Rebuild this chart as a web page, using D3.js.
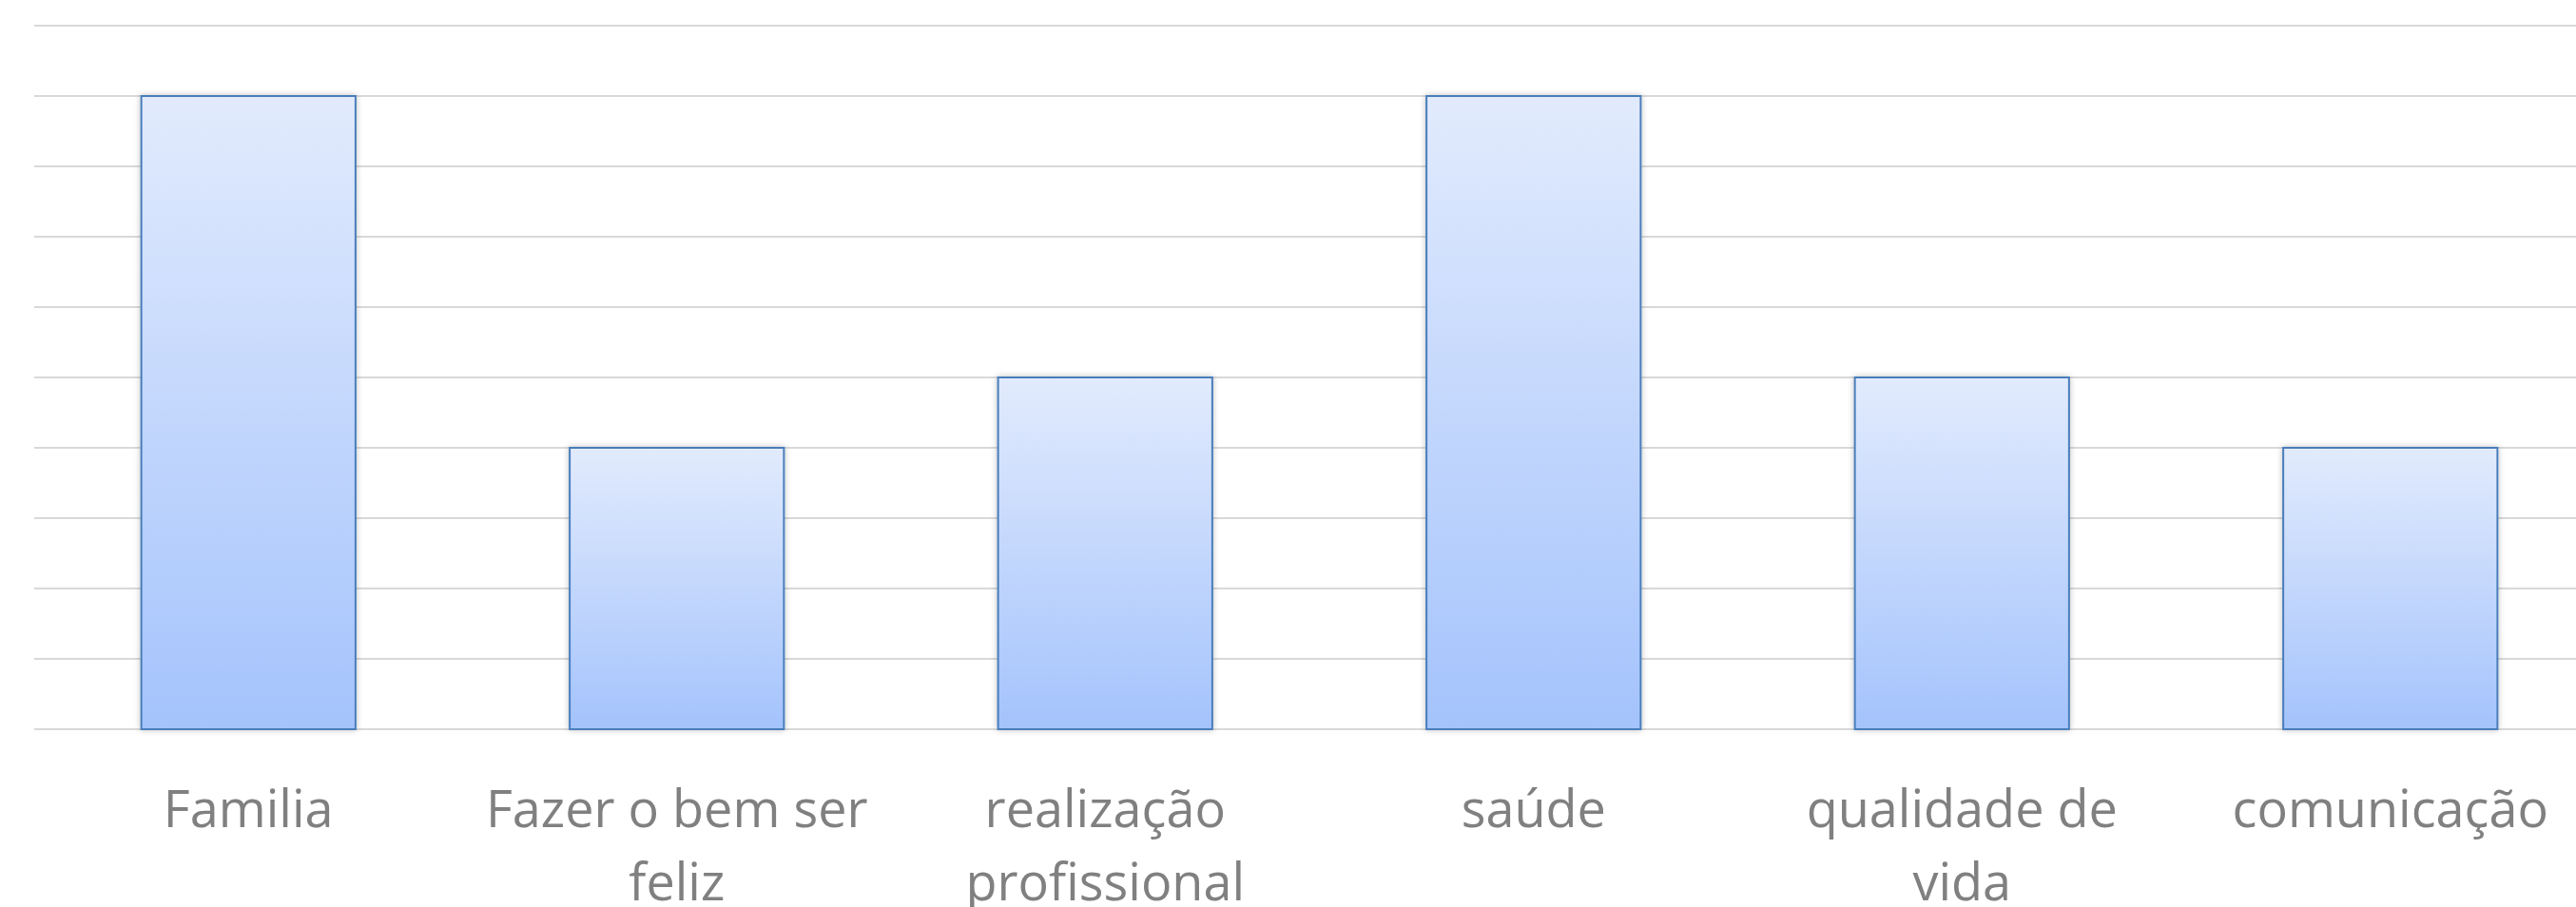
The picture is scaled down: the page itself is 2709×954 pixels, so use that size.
<!DOCTYPE html>
<html>
<head>
<meta charset="utf-8">
<script src="https://d3js.org/d3.v7.min.js"></script>
<style>
  body { margin: 0; background: #fff; }
</style>
</head>
<body>
<div id="chart"></div>
<script>
var w = 2709;
var h = 954;

var margin = { top: 27, left: 36, right: -30, bottom: 187 };

var categories = ["Familia", "Fazer o bem ser feliz", "realização profissional", "saúde", "qualidade de vida", "comunicação"];
var values = [9, 4, 5, 9, 5, 4];
var yTicks = [0, 1, 2, 3, 4, 5, 6, 7, 8, 9, 10];

var width = w - margin.left - margin.right;
var height = h - margin.top - margin.bottom;

var x = d3.scaleBand()
  .domain(categories)
  .range([0, width])
  .paddingInner(0.5)
  .paddingOuter(0.25);

var y = d3.scaleLinear()
  .domain([0, 10])
  .range([height, 0]);

var svg = d3.select("#chart").append("svg")
  .attr("width", w)
  .attr("height", h);

var defs = svg.append("defs");
var grad = defs.append("linearGradient")
  .attr("id", "barGrad")
  .attr("x1", 0).attr("y1", 0).attr("x2", 0).attr("y2", 1);
grad.append("stop").attr("offset", "0%").attr("stop-color", "#e2ebfd");
grad.append("stop").attr("offset", "100%").attr("stop-color", "#a4c3fc");

var shadow = defs.append("filter").attr("id", "shadow")
  .attr("x", "-10%").attr("y", "-10%").attr("width", "120%").attr("height", "120%");
shadow.append("feDropShadow")
  .attr("dx", 0).attr("dy", 0).attr("stdDeviation", 3)
  .attr("flood-color", "#000").attr("flood-opacity", 0.25);

var chart = svg.append("g").attr("transform", "translate(" + margin.left + "," + margin.top + ")");

// gridlines
chart.append("g")
  .selectAll("line")
  .data(yTicks)
  .join("line")
  .attr("x1", 0)
  .attr("x2", width)
  .attr("y1", function (d) { return y(d); })
  .attr("y2", function (d) { return y(d); })
  .style("stroke", "#d9d9d9")
  .style("stroke-width", 2);

chart.append("g")
  .selectAll("rect")
  .data(values)
  .join("rect")
  .attr("x", function (d, i) { return x(categories[i]); })
  .attr("y", function (d) { return y(d); })
  .attr("width", x.bandwidth())
  .attr("height", function (d) { return y(0) - y(d); })
  .style("fill", "url(#barGrad)")
  .style("stroke", "#4a7ebb")
  .style("stroke-width", 2)
  .attr("filter", "url(#shadow)");

// category labels, wrapped like excel does
var xAxis = chart.append("g")
  .attr("transform", "translate(0," + height + ")")
  .call(d3.axisBottom(x).tickSize(0).tickPadding(0));
xAxis.select(".domain").remove();
xAxis.selectAll("text")
  .style("font-family", "'Open Sans', sans-serif")
  .style("font-size", "54px")
  .style("fill", "#808080")
  .attr("y", 0)
  .attr("dy", null)
  .each(function (d) {
    var text = d3.select(this);
    var words = d.split(" ");
    text.text(null);
    var lines = [];
    var line = [];
    var tspan = text.append("tspan");
    words.forEach(function (word) {
      line.push(word);
      tspan.text(line.join(" "));
      if (this.getComputedTextLength() > 440 && line.length > 1) {
        line.pop();
        lines.push(line.join(" "));
        line = [word];
      }
    }, tspan.node());
    lines.push(line.join(" "));
    text.text(null);
    lines.forEach(function (l, i) {
      text.append("tspan")
        .attr("x", 0)
        .attr("y", 103 + i * 77)
        .text(l);
    });
  });
</script>
</body>
</html>
